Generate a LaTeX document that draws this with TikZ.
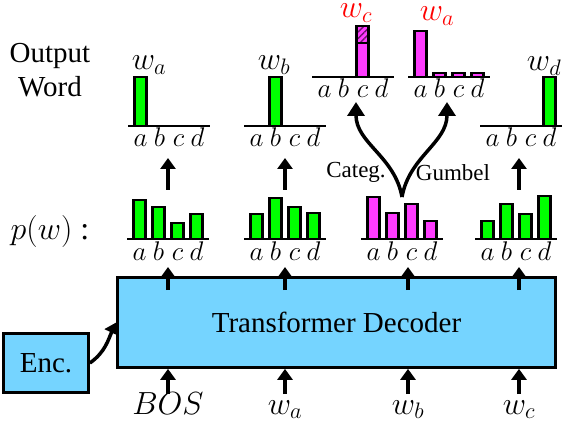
\RequirePackage{fix-cm}
\documentclass[tikz,border=0pt]{standalone}
\usepackage{fontspec}
\setmainfont{Liberation Serif}
\usepackage{tikz}
\usetikzlibrary{arrows.meta, positioning, patterns.meta}
\definecolor{decblue}{RGB}{117,212,255}
\definecolor{bargreen}{RGB}{0,255,0}
\definecolor{barpink}{RGB}{255,60,255}
\definecolor{stripe}{RGB}{110,20,110}

\begin{document}
\begin{tikzpicture}[x=1pt, y=-1pt,
    block/.style={draw, line width=2.7pt, fill=decblue, inner sep=0pt,
                  font=\fontsize{29}{34}\selectfont},
    bar/.style={draw, line width=2.8pt},
    axis/.style={line width=1.3pt},
    tick/.style={inner sep=0pt, anchor=base, font=\fontsize{27}{31}\selectfont},
    word/.style={inner sep=0pt, anchor=base, font=\fontsize{32}{36}\selectfont},
    sampler/.style={inner sep=0pt, font=\fontsize{23}{27}\selectfont},
    arr/.style={line width=3.5pt, -{Triangle[length=11pt, width=15pt]}},
    fork/.style={line width=3.5pt, -{Triangle[length=14pt, width=17pt]}}
]
    \useasboundingbox (0,0) rectangle (562,422);

    % ========== rows and columns ==========
    \coordinate (inrow)  at (0,394);
    \coordinate (inlab)  at (0,414);
    \coordinate (decout) at (0,290);
    \coordinate (ptip)   at (0,267);
    \coordinate (pout)   at (0,190);
    \coordinate (ttip)   at (0,158);
    \foreach \x [count=\n] in {168,285,408,519}
        \coordinate (col\n) at (\x,0);

    % ========== Encoder / Decoder ==========
    \node[block, minimum width=438pt, minimum height=90pt] (dec) at (336.5,322.5)
        {Transformer Decoder};
    \node[block, minimum width=85pt, minimum height=59pt] (enc) at (46,363) {Enc.};

    % ========== inputs ==========
    \node[word] (in1) at (col1 |- inlab) {$BOS$};
    \node[word] (in2) at (col2 |- inlab) {$w_a$};
    \node[word] (in3) at (col3 |- inlab) {$w_b$};
    \node[word] (in4) at (col4 |- inlab) {$w_c$};

    % ========== bar charts ==========
    \foreach \g/\cx/\by/\col/\hs in {
            p1/168/239/bargreen/{39,32,16,25},
            p2/285/239/bargreen/{25,41,32,26},
            p3/402/239/barpink/{42,26,35,18},
            p4/516/239/bargreen/{18,35,25,43},
            t1/169/126/bargreen/{49,0,0,0},
            t2/285/126/bargreen/{0,49,0,0},
            t4/521/126/bargreen/{0,0,0,49},
            ct/353/77/barpink/{0,0,51,0},
            gm/449/77/barpink/{46,4,4,4}} {
        \draw[axis] (\cx-41,\by) -- (\cx+41,\by);
        \foreach \h [count=\i] in \hs {
            \ifnum\h>0
                \draw[bar, fill=\col] (\cx+19*\i-53.5,\by) rectangle ++(12,-\h);
            \fi
        }
        \foreach \l [count=\i] in {a,b,c,d}
            \node[tick] (\g\l) at (\cx+19*\i-47.5,\by+21) {$\l$};
    }
    % hatched top of the sampled bar
    \draw[bar, preaction={fill=barpink},
          pattern={Lines[angle=45, distance=4.5pt, line width=1.4pt]},
          pattern color=stripe] (356.5,43) rectangle ++(12,-17);

    % ========== labels ==========
    \node[inner sep=0pt, align=center, font=\fontsize{29}{34}\selectfont]
        (outlab) at (50,70) {Output\\Word};
    \node[word] (plab) at (50,239) {$p(w)$\ :};
    \node[word] (wa) at (149,70) {$w_a$};
    \node[word] (wb) at (274,70) {$w_b$};
    \node[word] (wd) at (544,71) {$w_d$};
    \node[word, text=red] (wcr) at (356,18) {$w_c$};
    \node[word, text=red] (war) at (437,21) {$w_a$};
    \node[sampler] (categ)  at (356,172) {Categ.};
    \node[sampler] (gumbel) at (453,173) {Gumbel};

    % --- arrows ---
    \foreach \n in {1,...,4} {
        \draw[arr] (in\n |- inrow) -- (in\n |- dec.south);
        \draw[arr] (col\n |- decout) -- (col\n |- ptip);
    }
    \foreach \n in {1,2,4}
        \draw[arr] (col\n |- pout) -- (col\n |- ttip);
    \draw[arr] (enc.east) to[out=35, in=245] (dec.west);

    % sampling fork
    \coordinate (fork) at (402,197);
    \coordinate (ctip) at (356,102);
    \coordinate (gtip) at (447,102);
    \draw[fork] (fork) to[out=100, in=-90] (ctip);
    \draw[fork] (fork) to[out=80, in=-90] (gtip);
\end{tikzpicture}
\end{document}
